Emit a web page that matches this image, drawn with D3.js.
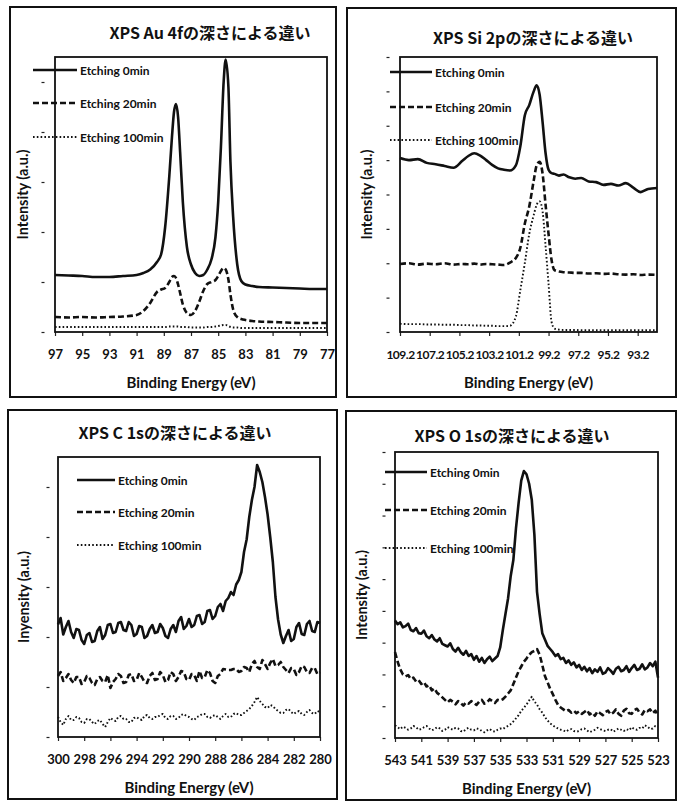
<!DOCTYPE html>
<html>
<head>
<meta charset="utf-8">
<script src="https://cdn.jsdelivr.net/npm/d3@7"></script>
<style>
  body { margin: 0; background: #fff; }
  svg text { fill: #111; }
  .tick text { font-family: Lato, "Open Sans", sans-serif; font-weight: 700; }
</style>
</head>
<body>
<div id="chart"></div>
<script>
// --- data ---
const seriesNames = ["Etching 0min", "Etching 20min", "Etching 100min"];

// Au 4f
const auEnergy = [97, 96, 95, 94, 93, 92, 91, 90.5, 90, 89.5, 89.2, 88.9, 88.6, 88.4, 88.25, 88.1, 87.95, 87.8, 87.6, 87.3, 87.0, 86.7, 86.4, 86.1, 85.8, 85.5, 85.2, 85.0, 84.8, 84.6, 84.45, 84.25, 84.1, 83.9, 83.6, 83.3, 83.0, 82.5, 82, 81, 80, 79, 78, 77];
const au0 = [1.14, 1.13, 1.12, 1.10, 1.10, 1.12, 1.14, 1.18, 1.25, 1.40, 1.55, 2.10, 3.10, 3.90, 4.40, 4.56, 4.30, 3.60, 2.60, 1.70, 1.35, 1.18, 1.12, 1.14, 1.25, 1.45, 1.90, 2.60, 3.70, 5.00, 5.45, 4.90, 3.40, 2.30, 1.35, 1.02, 0.95, 0.92, 0.90, 0.89, 0.88, 0.87, 0.86, 0.86];
const au20 = [0.30, 0.29, 0.30, 0.29, 0.30, 0.31, 0.34, 0.42, 0.58, 0.80, 0.85, 0.88, 1.00, 1.10, 1.12, 1.08, 0.95, 0.78, 0.55, 0.38, 0.34, 0.42, 0.60, 0.82, 0.96, 1.00, 1.04, 1.12, 1.22, 1.28, 1.25, 1.05, 0.75, 0.45, 0.30, 0.26, 0.24, 0.22, 0.21, 0.20, 0.19, 0.18, 0.18, 0.18];
const au100 = [0.10, 0.10, 0.10, 0.10, 0.10, 0.10, 0.10, 0.10, 0.10, 0.10, 0.10, 0.10, 0.11, 0.11, 0.11, 0.11, 0.11, 0.10, 0.10, 0.10, 0.09, 0.09, 0.09, 0.09, 0.10, 0.10, 0.11, 0.12, 0.13, 0.14, 0.14, 0.12, 0.10, 0.09, 0.09, 0.08, 0.08, 0.08, 0.08, 0.08, 0.08, 0.08, 0.08, 0.08];
const auTicks = [97, 95, 93, 91, 89, 87, 85, 83, 81, 79, 77];

// Si 2p
const siEnergy = [109.2, 108.6, 108, 107.4, 106.8, 106.2, 105.6, 105, 104.6, 104.2, 103.8, 103.4, 103, 102.6, 102.2, 101.8, 101.4, 101.1, 100.8, 100.5, 100.2, 100.0, 99.8, 99.6, 99.4, 99.2, 99.0, 98.8, 98.5, 98.2, 97.8, 97.4, 97, 96.5, 96, 95.5, 95, 94.5, 94, 93.5, 93, 92.5, 91.9];
const si0 = [5.06, 5.00, 5.03, 4.92, 4.88, 4.83, 4.78, 4.98, 5.12, 5.20, 5.13, 5.00, 4.86, 4.76, 4.72, 4.70, 4.85, 5.40, 6.30, 6.60, 7.00, 7.18, 6.90, 6.10, 5.20, 4.72, 4.62, 4.60, 4.55, 4.58, 4.50, 4.46, 4.48, 4.38, 4.36, 4.28, 4.31, 4.26, 4.33, 4.20, 4.07, 4.16, 4.19];
const si20 = [1.98, 2.00, 1.96, 1.99, 1.97, 2.00, 1.96, 1.98, 1.97, 1.99, 1.96, 1.98, 1.97, 1.96, 1.95, 2.02, 2.15, 2.45, 3.15, 3.65, 4.40, 4.85, 4.95, 4.60, 3.70, 2.85, 2.10, 1.80, 1.76, 1.74, 1.73, 1.72, 1.72, 1.70, 1.71, 1.69, 1.70, 1.68, 1.67, 1.68, 1.66, 1.67, 1.66];
const si100 = [0.24, 0.23, 0.23, 0.22, 0.22, 0.21, 0.21, 0.20, 0.20, 0.19, 0.19, 0.18, 0.18, 0.17, 0.17, 0.18, 0.45, 1.22, 2.00, 2.85, 3.40, 3.70, 3.80, 3.50, 2.50, 1.40, 0.30, 0.10, 0.07, 0.06, 0.06, 0.06, 0.05, 0.05, 0.05, 0.05, 0.05, 0.05, 0.05, 0.05, 0.05, 0.05, 0.05];
const siTicks = [109.2, 107.2, 105.2, 103.2, 101.2, 99.2, 97.2, 95.2, 93.2];

// C 1s
const cEnergy = [
  300.0, 299.8, 299.6, 299.4, 299.2, 299.0, 298.8, 298.6, 298.4, 298.2,
  298.0, 297.8, 297.6, 297.4, 297.2, 297.0, 296.8, 296.6, 296.4, 296.2,
  296.0, 295.8, 295.6, 295.4, 295.2, 295.0, 294.8, 294.6, 294.4, 294.2,
  294.0, 293.8, 293.6, 293.4, 293.2, 293.0, 292.8, 292.6, 292.4, 292.2,
  292.0, 291.8, 291.6, 291.4, 291.2, 291.0, 290.8, 290.6, 290.4, 290.2,
  290.0, 289.8, 289.6, 289.4, 289.2, 289.0, 288.8, 288.6, 288.4, 288.2,
  288.0, 287.8, 287.6, 287.4, 287.2, 287.0, 286.8, 286.6, 286.4, 286.2,
  286.0, 285.8, 285.6, 285.4, 285.2, 285.0, 284.8, 284.6, 284.4, 284.2,
  284.0, 283.8, 283.6, 283.4, 283.2, 283.0, 282.8, 282.6, 282.4, 282.2,
  282.0, 281.8, 281.6, 281.4, 281.2, 281.0, 280.8, 280.6, 280.4, 280.2,
  280.0];
const c0 = [
  2.25, 2.38, 2.05, 2.20, 2.32, 2.10, 1.98, 2.16, 2.14, 1.94,
  1.86, 2.04, 2.08, 1.90, 1.92, 2.12, 2.20, 1.96, 2.04, 2.24,
  2.26, 2.08, 2.10, 2.28, 2.30, 2.14, 2.12, 2.30, 2.24, 2.02,
  2.06, 2.22, 2.20, 1.98, 2.02, 2.16, 2.24, 2.08, 2.10, 2.26,
  2.18, 2.02, 1.98, 2.16, 2.24, 2.10, 2.32, 2.40, 2.16, 2.22,
  2.36, 2.20, 2.24, 2.42, 2.44, 2.26, 2.30, 2.52, 2.54, 2.36,
  2.42, 2.60, 2.66, 2.52, 2.72, 2.78, 2.90, 2.84, 3.05, 3.14,
  3.30, 3.70, 3.95, 4.40, 4.74, 5.00, 5.44, 5.30, 5.10, 4.80,
  4.45, 4.00, 3.50, 2.80, 2.35, 2.05, 1.88, 2.02, 2.14, 1.92,
  1.96, 2.20, 2.28, 2.06, 2.04, 2.26, 2.32, 2.12, 2.10, 2.30,
  2.28];
const c20 = [
  1.22, 1.30, 1.12, 1.18, 1.26, 1.14, 1.08, 1.20, 1.20, 1.06,
  1.10, 1.22, 1.18, 1.08, 1.04, 1.16, 1.20, 1.12, 1.10, 1.24,
  0.98, 1.10, 1.16, 1.26, 1.22, 1.08, 1.10, 1.24, 1.26, 1.12,
  1.14, 1.28, 1.20, 1.10, 1.08, 1.22, 1.28, 1.14, 1.16, 1.30,
  1.24, 1.10, 1.14, 1.30, 1.26, 1.12, 1.20, 1.32, 1.30, 1.16,
  1.14, 1.26, 1.24, 1.12, 1.32, 1.18, 1.20, 1.34, 1.28, 1.12,
  1.08, 1.22, 1.26, 1.36, 1.35, 1.34, 1.34, 1.36, 1.36, 1.30,
  1.32, 1.40, 1.38, 1.30, 1.46, 1.52, 1.40, 1.36, 1.54, 1.46,
  1.36, 1.48, 1.56, 1.42, 1.44, 1.50, 1.40, 1.34, 1.28, 1.38,
  1.36, 1.24, 1.30, 1.42, 1.40, 1.30, 1.28, 1.38, 1.38, 1.26,
  1.30];
const c100 = [
  0.40, 0.30, 0.24, 0.36, 0.42, 0.34, 0.34, 0.40, 0.38, 0.30,
  0.28, 0.36, 0.36, 0.30, 0.26, 0.32, 0.34, 0.26, 0.20, 0.30,
  0.38, 0.34, 0.32, 0.40, 0.42, 0.36, 0.36, 0.30, 0.30, 0.38,
  0.40, 0.36, 0.34, 0.42, 0.44, 0.38, 0.36, 0.40, 0.40, 0.44,
  0.46, 0.38, 0.36, 0.42, 0.42, 0.36, 0.38, 0.44, 0.46, 0.42,
  0.40, 0.36, 0.34, 0.40, 0.42, 0.46, 0.46, 0.40, 0.38, 0.42,
  0.44, 0.40, 0.36, 0.42, 0.46, 0.40, 0.40, 0.46, 0.48, 0.44,
  0.44, 0.48, 0.52, 0.56, 0.62, 0.70, 0.80, 0.72, 0.66, 0.60,
  0.58, 0.64, 0.62, 0.56, 0.52, 0.48, 0.48, 0.54, 0.56, 0.50,
  0.46, 0.50, 0.52, 0.46, 0.44, 0.50, 0.54, 0.48, 0.46, 0.52,
  0.50];
const cTicks = [300, 298, 296, 294, 292, 290, 288, 286, 284, 282, 280];

// O 1s
const oEnergy = [
  543.0, 542.8, 542.6, 542.4, 542.2, 542.0, 541.8, 541.6, 541.4, 541.2,
  541.0, 540.8, 540.6, 540.4, 540.2, 540.0, 539.8, 539.6, 539.4, 539.2,
  539.0, 538.8, 538.6, 538.4, 538.2, 538.0, 537.8, 537.6, 537.4, 537.2,
  537.0, 536.8, 536.6, 536.4, 536.2, 536.0, 535.8, 535.6, 535.4, 535.2,
  535.0, 534.8, 534.6, 534.4, 534.2, 534.0, 533.8, 533.6, 533.4, 533.2,
  533.0, 532.8, 532.6, 532.4, 532.2, 532.0, 531.8, 531.6, 531.4, 531.2,
  531.0, 530.8, 530.6, 530.4, 530.2, 530.0, 529.8, 529.6, 529.4, 529.2,
  529.0, 528.8, 528.6, 528.4, 528.2, 528.0, 527.8, 527.6, 527.4, 527.2,
  527.0, 526.8, 526.6, 526.4, 526.2, 526.0, 525.8, 525.6, 525.4, 525.2,
  525.0, 524.8, 524.6, 524.4, 524.2, 524.0, 523.8, 523.6, 523.4, 523.2,
  523.0];
const o0 = [
  3.70, 3.58, 3.64, 3.48, 3.52, 3.60, 3.40, 3.36, 3.46, 3.30,
  3.28, 3.38, 3.20, 3.14, 3.24, 3.10, 3.04, 3.14, 2.96, 2.92,
  2.88, 2.98, 2.80, 2.72, 2.84, 2.70, 2.62, 2.74, 2.58, 2.64,
  2.46, 2.58, 2.40, 2.52, 2.36, 2.48, 2.56, 2.42, 2.50, 2.58,
  2.85, 3.40, 3.90, 4.40, 5.10, 5.60, 6.60, 7.40, 8.10, 8.40,
  8.30, 8.00, 7.50, 6.40, 4.60, 3.90, 3.30, 3.10, 2.90, 2.80,
  2.70, 2.58, 2.64, 2.48, 2.52, 2.36, 2.44, 2.30, 2.38, 2.22,
  2.30, 2.14, 2.24, 2.10, 2.20, 2.04, 2.16, 2.08, 2.22, 2.02,
  2.06, 2.20, 2.12, 2.02, 2.18, 2.24, 2.10, 2.14, 2.26, 2.08,
  2.20, 2.30, 2.14, 2.18, 2.32, 2.16, 2.22, 2.36, 2.26, 2.40,
  1.90];
const o20 = [
  2.70, 2.40, 2.16, 2.00, 1.94, 1.98, 1.86, 1.90, 1.78, 1.82,
  1.70, 1.76, 1.62, 1.66, 1.50, 1.56, 1.42, 1.36, 1.28, 1.20,
  1.12, 1.20, 1.14, 1.06, 1.16, 1.10, 1.02, 1.12, 1.08, 1.16,
  1.10, 1.04, 1.14, 1.20, 1.08, 1.12, 1.22, 1.16, 1.10, 1.20,
  1.18, 1.22, 1.30, 1.40, 1.50, 1.70, 1.90, 2.10, 2.25, 2.40,
  2.50, 2.62, 2.70, 2.74, 2.80, 2.62, 2.30, 1.95, 1.75, 1.55,
  1.38, 1.20, 1.04, 0.96, 0.90, 0.84, 0.88, 0.80, 0.86, 0.78,
  0.84, 0.76, 0.82, 0.88, 0.74, 0.80, 0.70, 0.84, 0.78, 0.72,
  0.82, 0.86, 0.74, 0.80, 0.90, 0.76, 0.70, 0.86, 0.92, 0.78,
  0.76, 0.88, 0.92, 0.80, 0.74, 0.88, 0.84, 0.90, 0.78, 0.86,
  0.70];
const o100 = [
  0.40, 0.34, 0.28, 0.36, 0.32, 0.26, 0.30, 0.38, 0.34, 0.26,
  0.28, 0.34, 0.38, 0.30, 0.24, 0.28, 0.34, 0.30, 0.22, 0.26,
  0.34, 0.30, 0.26, 0.32, 0.30, 0.22, 0.20, 0.28, 0.32, 0.26,
  0.24, 0.30, 0.28, 0.22, 0.18, 0.24, 0.28, 0.22, 0.20, 0.26,
  0.30, 0.28, 0.34, 0.38, 0.44, 0.52, 0.62, 0.72, 0.85, 0.95,
  1.05, 1.18, 1.30, 1.15, 1.05, 0.90, 0.80, 0.66, 0.55, 0.46,
  0.40, 0.34, 0.30, 0.26, 0.24, 0.20, 0.26, 0.28, 0.22, 0.20,
  0.22, 0.28, 0.30, 0.24, 0.18, 0.22, 0.26, 0.32, 0.28, 0.24,
  0.22, 0.26, 0.28, 0.20, 0.24, 0.30, 0.26, 0.22, 0.28, 0.24,
  0.34, 0.28, 0.26, 0.32, 0.30, 0.40, 0.36, 0.28, 0.30, 0.38,
  0.36];
const oTicks = [543, 541, 539, 537, 535, 533, 531, 529, 527, 525, 523];

// --- layout of the four panels ---
const W = 678, H = 802;
const svg = d3.select("#chart").append("svg").attr("width", W).attr("height", H);

const lineStyles = [
  { width: 2.6, dash: null },
  { width: 2.6, dash: "6,3" },
  { width: 1.9, dash: "1.6,2.2" }
];

const panels = [
  { title: "XPS Au 4fの深さによる違い", ylabel: "Intensity (a.u.)",
    frame: [10, 7, 326, 390], plot: { l: 55, t: 57, r: 327, b: 332 },
    xDomain: [97, 77], yMax: 5.5, yTicks: [0, 1, 2, 3, 4, 5], tickX: 43,
    x: auEnergy, ys: [au0, au20, au100], xTicks: auTicks, fmt: d3.format("d"), tickFont: 13, tickSpacing: 0,
    titleX: 210, titleY: 39, legend: { x0: 33, x1: 77, ys: [70, 103, 137] }, ylabelX: 23,
    curve: d3.curveMonotoneX },
  { title: "XPS Si 2pの深さによる違い", ylabel: "Intensity (a.u.)",
    frame: [347, 8, 329, 389], plot: { l: 400, t: 57, r: 657, b: 332 },
    xDomain: [109.2, 91.9], yMax: 8, yTicks: [0, 1, 2, 3, 4, 5, 6, 7, 8], tickX: 388,
    x: siEnergy, ys: [si0, si20, si100], xTicks: siTicks, fmt: d3.format(".1f"), tickFont: 12, tickSpacing: -0.5,
    titleX: 533, titleY: 44, legend: { x0: 390, x1: 432, ys: [72, 107, 140] }, ylabelX: 367,
    curve: d3.curveMonotoneX },
  { title: "XPS C 1sの深さによる違い", ylabel: "Inyensity (a.u.)",
    frame: [8, 410, 329, 389], plot: { l: 58, t: 457, r: 320, b: 737 },
    xDomain: [300, 280], yMax: 5.6, yTicks: [0, 1, 2, 3, 4, 5], tickX: 48,
    x: cEnergy, ys: [c0, c20, c100], xTicks: cTicks, fmt: d3.format("d"), tickFont: 13, tickSpacing: 0,
    titleX: 175, titleY: 439, legend: { x0: 77, x1: 115, ys: [480, 512, 545] }, ylabelX: 24,
    curve: d3.curveLinear },
  { title: "XPS O 1sの深さによる違い", ylabel: "Intensity (a.u.)",
    frame: [346, 411, 330, 389], plot: { l: 395, t: 452, r: 658, b: 738 },
    xDomain: [543, 523], yMax: 9, yTicks: [0, 1, 2, 3, 4, 5, 6, 7, 8, 9], tickX: 384,
    x: oEnergy, ys: [o0, o20, o100], xTicks: oTicks, fmt: d3.format("d"), tickFont: 13, tickSpacing: 0,
    titleX: 512, titleY: 442, legend: { x0: 385, x1: 427, ys: [472, 510, 548] }, ylabelX: 362,
    curve: d3.curveLinear }
];

panels.forEach(p => {
  const g = svg.append("g");
  const [fx, fy, fw, fh] = p.frame;
  g.append("rect").attr("x", fx).attr("y", fy).attr("width", fw).attr("height", fh)
    .attr("fill", "none").attr("stroke", "#111").attr("stroke-width", 2);

  const x = d3.scaleLinear().domain(p.xDomain).range([p.plot.l, p.plot.r]);
  const y = d3.scaleLinear().domain([0, p.yMax]).range([p.plot.b, p.plot.t]);

  // y ticks: little detached dashes, no labels
  const yAxis = g.append("g").attr("transform", `translate(${p.plot.l},0)`)
    .call(d3.axisLeft(y).tickValues(p.yTicks).tickSize(0).tickFormat(""));
  yAxis.select(".domain").remove();
  yAxis.selectAll(".tick").append("line")
    .attr("x1", p.tickX - p.plot.l - 1.5).attr("x2", p.tickX - p.plot.l + 1.5)
    .attr("stroke", "#222").attr("stroke-width", 1.2);

  // x axis
  const xAxis = g.append("g").attr("transform", `translate(0,${p.plot.b})`)
    .call(d3.axisBottom(x).tickValues(p.xTicks).tickFormat(p.fmt)
      .tickSizeInner(4).tickSizeOuter(0).tickPadding(14));
  xAxis.select(".domain").remove();
  xAxis.selectAll(".tick line").attr("stroke", "#222").attr("stroke-width", 1.2);
  xAxis.selectAll(".tick text").attr("font-size", p.tickFont)
    .attr("letter-spacing", p.tickSpacing);

  // plot box
  g.append("rect").attr("x", p.plot.l).attr("y", p.plot.t)
    .attr("width", p.plot.r - p.plot.l).attr("height", p.plot.b - p.plot.t)
    .attr("fill", "none").attr("stroke", "#111").attr("stroke-width", 1.8);

  // series
  p.ys.forEach((vals, i) => {
    const line = d3.line().x((d, k) => x(p.x[k])).y(d => y(d)).curve(p.curve);
    g.append("path").datum(vals).attr("d", line)
      .attr("fill", "none").attr("stroke", "#111")
      .attr("stroke-width", lineStyles[i].width)
      .attr("stroke-dasharray", lineStyles[i].dash)
      .attr("stroke-linejoin", "round");
  });

  // legend
  seriesNames.forEach((name, i) => {
    const ly = p.legend.ys[i];
    g.append("line").attr("x1", p.legend.x0).attr("x2", p.legend.x1)
      .attr("y1", ly).attr("y2", ly).attr("stroke", "#111")
      .attr("stroke-width", lineStyles[i].width)
      .attr("stroke-dasharray", lineStyles[i].dash);
    g.append("text").attr("x", p.legend.x1 + 3).attr("y", ly + 4.5)
      .attr("font-family", "Lato, sans-serif").attr("font-weight", 700)
      .attr("font-size", 12).text(name);
  });

  // titles
  g.append("text").attr("x", p.titleX).attr("y", p.titleY).attr("text-anchor", "middle")
    .attr("font-family", "'Noto Sans CJK JP', sans-serif").attr("font-weight", 700)
    .attr("font-size", 16).text(p.title);
  g.append("text").attr("x", (p.plot.l + p.plot.r) / 2).attr("y", p.plot.b + 56)
    .attr("text-anchor", "middle").attr("font-family", "Lato, sans-serif")
    .attr("font-weight", 700).attr("font-size", 15).text("Binding Energy (eV)");
  g.append("text")
    .attr("transform", `translate(${p.ylabelX},${(p.plot.t + p.plot.b) / 2}) rotate(-90)`)
    .attr("text-anchor", "middle").attr("dy", "0.35em")
    .attr("font-family", "Lato, sans-serif").attr("font-weight", 700)
    .attr("font-size", 14.5).text(p.ylabel);
});
</script>
</body>
</html>
